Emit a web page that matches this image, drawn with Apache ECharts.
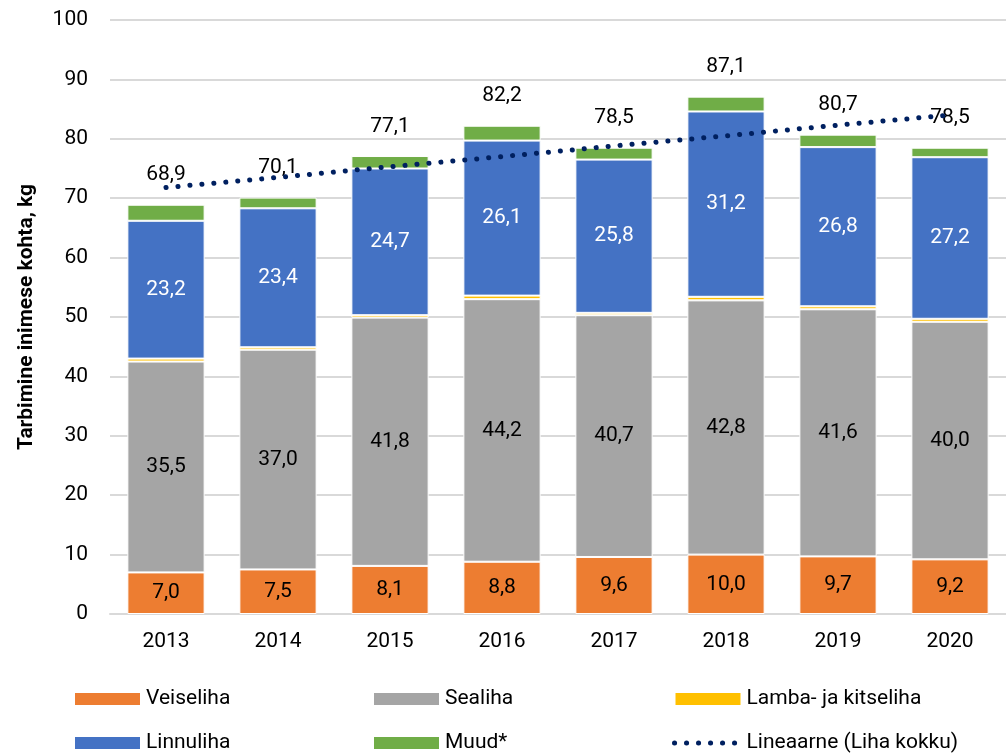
<!DOCTYPE html>
<html>
<head>
<meta charset="utf-8">
<script src="https://cdn.jsdelivr.net/npm/echarts@6/dist/echarts.min.js"></script>
<style>
  html, body { margin: 0; padding: 0; background: #fff; }
  #chart { width: 1006px; height: 756px; }
</style>
</head>
<body>
<div id="chart"></div>
<script>
var FONT = "Roboto, sans-serif";

var years = ['2013', '2014', '2015', '2016', '2017', '2018', '2019', '2020'];
var veiseliha = [7.0, 7.5, 8.1, 8.8, 9.6, 10.0, 9.7, 9.2];
var sealiha = [35.5, 37.0, 41.8, 44.2, 40.7, 42.8, 41.6, 40.0];
var lambaliha = [0.5, 0.4, 0.4, 0.6, 0.4, 0.6, 0.5, 0.5];
var linnuliha = [23.2, 23.4, 24.7, 26.1, 25.8, 31.2, 26.8, 27.2];
var muud = [2.7, 1.8, 2.1, 2.5, 2.0, 2.5, 2.1, 1.6];
var kokku = [68.9, 70.1, 77.1, 82.2, 78.5, 87.1, 80.7, 78.5];
var trend = [71.8, 73.5, 75.3, 77.0, 78.8, 80.5, 82.3, 84.0];

function fmt(v) { return v.toFixed(1).replace('.', ','); }

var chart = echarts.init(document.getElementById('chart'));

function barSeries(name, data, color, labelColor) {
  return {
    name: name,
    type: 'bar',
    stack: 'liha',
    barWidth: '69%',
    data: data,
    itemStyle: { color: color, borderColor: '#fff', borderWidth: 1 },
    label: labelColor ? {
      show: true,
      position: 'inside',
      color: labelColor,
      fontFamily: FONT,
      fontSize: 21,
      formatter: function (p) { return fmt(p.value); }
    } : { show: false }
  };
}

var muudSeries = barSeries('Muud*', muud, '#70AD47');
muudSeries.label = {
  show: true,
  position: 'top',
  distance: 19,
  color: '#000',
  fontFamily: FONT,
  fontSize: 21,
  formatter: function (p) { return fmt(kokku[p.dataIndex]); }
};

var legendText = { fontFamily: FONT, fontSize: 21, color: '#000', lineHeight: 24 };
function legend(left, names) {
  return {
    orient: 'vertical',
    left: left,
    top: 687,
    padding: 0,
    itemWidth: 67,
    itemHeight: 14,
    itemGap: 20,
    textStyle: legendText,
    lineStyle: { width: 5 },
    data: names.map(function (n) {
      return n.indexOf('Lineaarne') === 0 ? { name: n } : { name: n, icon: 'rect' };
    })
  };
}

chart.setOption({
  animation: false,
  textStyle: { fontFamily: FONT },
  grid: { left: 110, right: 0, top: 20, bottom: 142 },
  legend: [
    legend(73, ['Veiseliha', 'Linnuliha']),
    legend(372, ['Sealiha', 'Muud*']),
    legend(672, ['Lamba- ja kitseliha', 'Lineaarne (Liha kokku)'])
  ],
  xAxis: {
    type: 'category',
    data: years,
    axisLine: { lineStyle: { color: '#d9d9d9', width: 2 } },
    axisTick: { show: false },
    axisLabel: { color: '#000', fontFamily: FONT, fontSize: 21, margin: 17 }
  },
  yAxis: {
    type: 'value',
    min: 0,
    max: 100,
    interval: 10,
    name: 'Tarbimine inimese kohta, kg',
    nameLocation: 'middle',
    nameGap: 73,
    nameTextStyle: { color: '#000', fontFamily: FONT, fontSize: 21, fontWeight: 'bold' },
    axisLine: { show: false },
    axisTick: { show: false },
    axisLabel: { color: '#000', fontFamily: FONT, fontSize: 21, margin: 22 },
    splitLine: { lineStyle: { color: '#d9d9d9', width: 2 } }
  },
  series: [
    barSeries('Veiseliha', veiseliha, '#ED7D31', '#000'),
    barSeries('Sealiha', sealiha, '#A5A5A5', '#000'),
    barSeries('Lamba- ja kitseliha', lambaliha, '#FFC000'),
    barSeries('Linnuliha', linnuliha, '#4472C4', '#fff'),
    muudSeries,
    {
      name: 'Lineaarne (Liha kokku)',
      type: 'line',
      data: trend,
      symbol: 'none',
      z: 5,
      itemStyle: { color: 'rgba(0,0,0,0)' },
      lineStyle: { color: '#002060', width: 5, cap: 'round', type: [0.1, 11.9] }
    }
  ]
});
</script>
</body>
</html>
